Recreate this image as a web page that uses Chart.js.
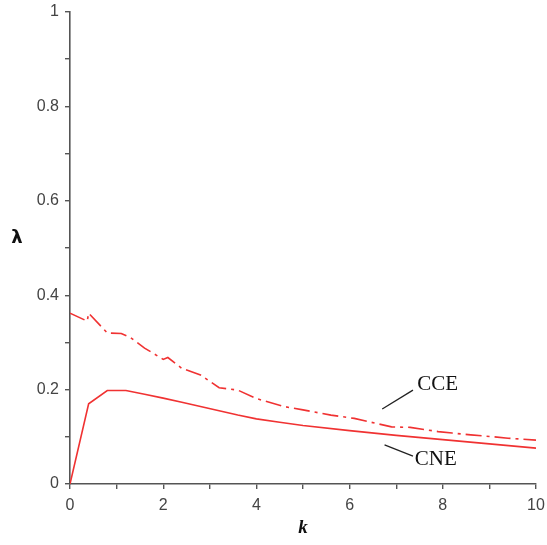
<!DOCTYPE html>
<html lang="en">
<head>
<meta charset="UTF-8">
<script src="https://cdn.jsdelivr.net/npm/chart.js@4.4.0/dist/chart.umd.min.js"></script>
<title>lambda vs k</title>
<style>
  html, body { margin: 0; padding: 0; background: #fff; }
  #wrap { width: 547px; height: 545px; }
</style>
</head>
<body>
<div id="wrap"><canvas id="plot" width="547" height="545"></canvas></div>
<script>
// values
const kCNE = [0, 0.4, 0.8, 1.2, 1.6, 2, 2.4, 2.8, 3.2, 3.6, 4, 4.5, 5, 6, 7, 8, 9, 10];
const lamCNE = [0, 0.17, 0.198, 0.198, 0.19, 0.182, 0.173, 0.164, 0.155, 0.146, 0.138, 0.131, 0.124, 0.113, 0.103, 0.094, 0.085, 0.076];

const kCCE = [0, 0.37, 0.4, 0.8, 1.1, 1.3, 1.6, 2.0, 2.1, 2.4, 2.8, 3.2, 3.6, 4.0, 4.6, 5.0, 5.6, 6.1, 6.9, 7.3, 7.9, 8.2, 8.6, 9.1, 9.4, 10];
const lamCCE = [0.362, 0.345, 0.362, 0.32, 0.319, 0.31, 0.288, 0.264, 0.268, 0.245, 0.231, 0.204, 0.199, 0.181, 0.164, 0.157, 0.146, 0.139, 0.121, 0.12, 0.111, 0.108, 0.104, 0.1, 0.097, 0.093];

// curve labels and their leader lines (data coords)
const curveLabels = [
  { text: 'CCE', k: 7.45, lam: 0.21, from: [6.7, 0.159], to: [7.36, 0.199] },
  { text: 'CNE', k: 7.4, lam: 0.051, from: [6.75, 0.083], to: [7.36, 0.059] }
];

const xTicks = [0, 2, 4, 6, 8, 10];
const yTicks = [0, 0.2, 0.4, 0.6, 0.8, 1];

const red = 'rgb(240,50,50)';
const axisGrey = '#555';

function pts(xs, ys) { return xs.map((x, i) => ({ x: x, y: ys[i] })); }

const leaderSets = curveLabels.map(l => ({
  data: [{ x: l.from[0], y: l.from[1] }, { x: l.to[0], y: l.to[1] }],
  borderColor: '#222', borderWidth: 1.3, pointRadius: 0, tension: 0
}));

const labelPlugin = {
  id: 'labels',
  afterDatasetsDraw(chart) {
    const ctx = chart.ctx, xs = chart.scales.x, ys = chart.scales.y;
    ctx.save();
    ctx.fillStyle = '#111';
    ctx.font = '21px "Liberation Serif", "Times New Roman", serif';
    ctx.textBaseline = 'middle';
    ctx.textAlign = 'left';
    curveLabels.forEach(l => {
      ctx.fillText(l.text, xs.getPixelForValue(l.k), ys.getPixelForValue(l.lam));
    });
    // horizontal y-axis title
    ctx.font = 'bold 18px "DejaVu Sans", sans-serif';
    ctx.textAlign = 'center';
    ctx.fillText('\u03bb', 17, 238);
    ctx.restore();
  }
};

new Chart(document.getElementById('plot').getContext('2d'), {
  type: 'line',
  data: {
    datasets: [
      { data: pts(kCNE, lamCNE), borderColor: red, borderWidth: 1.6, pointRadius: 0, tension: 0 },
      { data: pts(kCCE, lamCCE), borderColor: red, borderWidth: 1.6, borderDash: [16, 5, 3, 5], pointRadius: 0, tension: 0 }
    ].concat(leaderSets)
  },
  options: {
    responsive: false,
    animation: false,
    layout: { padding: { top: 12, right: 11, left: 0, bottom: 0 } },
    plugins: { legend: { display: false }, tooltip: { enabled: false } },
    scales: {
      x: {
        type: 'linear', min: 0, max: 10,
        border: { color: axisGrey, width: 1.6 },
        grid: { drawOnChartArea: false, drawTicks: true, tickLength: 5, color: axisGrey, lineWidth: 1.4 },
        ticks: {
          stepSize: 1, autoSkip: false, maxRotation: 0, padding: 7,
          color: '#444', font: { family: '"Liberation Sans", Arial, sans-serif', size: 16 },
          callback: v => xTicks.includes(v) ? String(v) : ''
        },
        title: {
          display: true, text: 'k', color: '#111', padding: { top: 0, bottom: 6 },
          font: { family: '"Liberation Serif", serif', size: 19, style: 'italic', weight: 'bold' }
        },
        afterFit: s => { s.height = 61; s.paddingLeft = 0; s.paddingRight = 0; }
      },
      y: {
        min: 0, max: 1,
        border: { color: axisGrey, width: 1.6 },
        grid: { drawOnChartArea: false, drawTicks: true, tickLength: 5, color: axisGrey, lineWidth: 1.4 },
        ticks: {
          stepSize: 0.1, autoSkip: false, padding: 6,
          color: '#444', font: { family: '"Liberation Sans", Arial, sans-serif', size: 16 },
          callback: v => {
            const r = Math.round(v * 10) / 10;
            return yTicks.includes(r) ? String(r) : '';
          }
        },
        afterFit: s => { s.width = 70; s.paddingTop = 0; s.paddingBottom = 0; }
      }
    }
  },
  plugins: [labelPlugin]
});
</script>
</body>
</html>
